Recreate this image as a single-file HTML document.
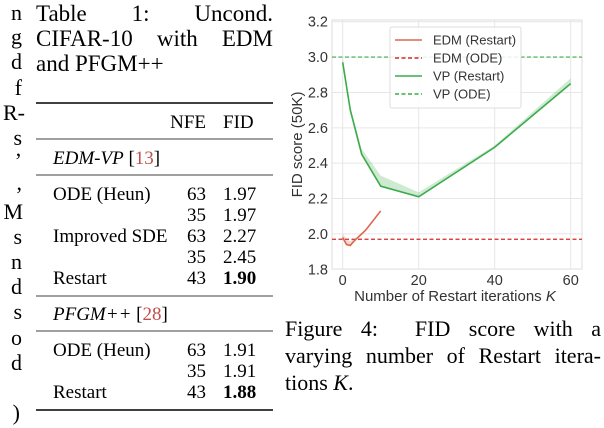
<!DOCTYPE html>
<html><head><meta charset="utf-8"><style>
html,body{margin:0;padding:0;background:#fff;}
body{position:relative;width:604px;height:428px;overflow:hidden;}
svg{display:block;position:absolute;left:0;top:0;}
.serif{font-family:"Liberation Serif",serif;fill:#000;}
.sans{font-family:"Liberation Sans",sans-serif;fill:#333;}
.jl{position:absolute;font-family:"Liberation Serif",serif;color:#000;white-space:nowrap;text-align:justify;text-align-last:justify;line-height:1;}
.jl.nl{text-align-last:left;}
</style></head><body>
<svg id="page" width="604" height="428" viewBox="0 0 604 428">
<g class="serif" font-size="22" text-anchor="end">
<text x="22" y="20">n</text><text x="22" y="44">g</text><text x="22" y="69">d</text><text x="22" y="95">f</text>
<text x="25" y="120">R-</text><text x="22" y="145">s</text><text x="22" y="168">’</text><text x="22" y="190">,</text>
<text x="23" y="219">M</text><text x="22" y="244">s</text><text x="22" y="269">n</text><text x="22" y="294">d</text>
<text x="22" y="319">s</text><text x="22" y="345">o</text><text x="22" y="370">d</text><text x="20" y="420">)</text>
</g>
<g class="serif">
<g stroke="#000">
<line x1="36" x2="273" y1="103" y2="103" stroke-width="1.4"/>
<line x1="36" x2="273" y1="139" y2="139" stroke-width="0.8"/>
<line x1="36" x2="273" y1="175" y2="175" stroke-width="0.8"/>
<line x1="36" x2="273" y1="296" y2="296" stroke-width="0.8"/>
<line x1="36" x2="273" y1="331" y2="331" stroke-width="0.8"/>
<line x1="36" x2="273" y1="410" y2="410" stroke-width="1.4"/>
</g>
<g font-size="19">
<text x="206" y="128" text-anchor="end">NFE</text><text x="223" y="128">FID</text>
<text x="53" y="164"><tspan font-style="italic">EDM-VP</tspan> [<tspan fill="#c0504d">13</tspan>]</text>
<text x="53" y="200">ODE (Heun)</text><text x="206" y="200" text-anchor="end">63</text><text x="223" y="200">1.97</text>
<text x="206" y="221" text-anchor="end">35</text><text x="223" y="221">1.97</text>
<text x="53" y="242">Improved SDE</text><text x="206" y="242" text-anchor="end">63</text><text x="223" y="242">2.27</text>
<text x="206" y="263" text-anchor="end">35</text><text x="223" y="263">2.45</text>
<text x="53" y="284">Restart</text><text x="206" y="284" text-anchor="end">43</text><text x="223" y="284" font-weight="bold">1.90</text>
<text x="53" y="320"><tspan font-style="italic">PFGM++</tspan> [<tspan fill="#c0504d">28</tspan>]</text>
<text x="53" y="356">ODE (Heun)</text><text x="206" y="356" text-anchor="end">63</text><text x="223" y="356">1.91</text>
<text x="206" y="377" text-anchor="end">35</text><text x="223" y="377">1.91</text>
<text x="53" y="398">Restart</text><text x="206" y="398" text-anchor="end">43</text><text x="223" y="398" font-weight="bold">1.88</text>
</g>
</g>
<g id="chart"></g>
</svg>
<div>
<div class="jl" style="left:36px;top:2px;width:237px;font-size:23px;">Table 1: Uncond.</div>
<div class="jl" style="left:36px;top:27px;width:237px;font-size:23px;">CIFAR-10 with EDM</div>
<div class="jl nl" style="left:36px;top:52px;width:237px;font-size:23px;">and PFGM++</div>
</div>
<div>
<div class="jl" style="left:285px;top:318px;width:316px;font-size:22px;">Figure 4: &nbsp;FID score with a</div>
<div class="jl" style="left:285px;top:345px;width:316px;font-size:22px;">varying number of Restart itera-</div>
<div class="jl nl" style="left:285px;top:372px;width:316px;font-size:22px;">tions <i>K</i>.</div>
</div>
<script>
const vpK = [0, 2, 5, 10, 20, 40, 60];
const vpFid = [2.97, 2.70, 2.45, 2.27, 2.21, 2.49, 2.85];
const vpUpper = [3.00, 2.72, 2.48, 2.33, 2.235, 2.50, 2.88];
const edmK = [0, 1, 2, 3, 6, 10];
const edmFid = [1.98, 1.94, 1.935, 1.96, 2.02, 2.13];
const edmUpper = [2.00, 1.97, 1.96, 1.97, 2.025, 2.135];
const edmOde = 1.97;
const vpOde = 3.0;
const yTicks = [1.8, 2.0, 2.2, 2.4, 2.6, 2.8, 3.0, 3.2];
const xTicks = [0, 20, 40, 60];

const NS = 'http://www.w3.org/2000/svg';
const g = document.getElementById('chart');
const L = 332, R = 582, T = 20, B = 269;
const xS = k => 342.7 + (k - 0) * (570.7 - 342.7) / 60;
const yS = v => 269.3 - (v - 1.8) * (269.3 - 21.7) / 1.4;
function mk(tag, attrs, parent) {
  const e = document.createElementNS(NS, tag);
  for (const k in attrs) e.setAttribute(k, attrs[k]);
  (parent || g).appendChild(e);
  return e;
}
let bg = mk('rect', {x: L, y: T, width: R - L, height: B - T, fill: '#fff', stroke: '#ddd', 'stroke-width': 1});


yTicks.forEach(v => {
  const y = yS(v);
  let gl = mk('line', {x1: L, x2: R, y1: y, y2: y, stroke: '#e6e6e6', 'stroke-width': 1});
  
  
  let t = mk('text', {x: L - 4, y: y + 5, 'text-anchor': 'end', class: 'sans', 'font-size': 14.5});
  
  
  t.textContent = v.toFixed(1);
});
xTicks.forEach(k => {
  const x = xS(k);
  let gl = mk('line', {x1: x, x2: x, y1: T, y2: B, stroke: '#e6e6e6', 'stroke-width': 1});
  
  
  let t = mk('text', {x: x, y: B + 16, 'text-anchor': 'middle', class: 'sans', 'font-size': 14.5});
  
  
  t.textContent = k;
});
function band(ks, lo, hi, color, name) {
  let d = ks.map((k, i) => (i ? 'L' : 'M') + xS(k) + ',' + yS(hi[i])).join('');
  for (let i = ks.length - 1; i >= 0; i--) d += 'L' + xS(ks[i]) + ',' + yS(lo[i]);
  let p = mk('path', {d: d + 'Z', fill: color, 'fill-opacity': 0.25, stroke: 'none'});
  
  
}
function line(ks, vs, color, name) {
  let d = ks.map((k, i) => (i ? 'L' : 'M') + xS(k) + ',' + yS(vs[i])).join('');
  let p = mk('path', {d: d, fill: 'none', stroke: color, 'stroke-width': 1.6});
  
  
}
let l1 = mk('line', {x1: L, x2: R, y1: yS(edmOde), y2: yS(edmOde), stroke: '#d62728', 'stroke-width': 1.2, 'stroke-dasharray': '4,2.5'});


let l2 = mk('line', {x1: L, x2: R, y1: yS(vpOde), y2: yS(vpOde), stroke: '#3cab4a', 'stroke-width': 1.2, 'stroke-dasharray': '4,2.5'});


band(vpK, vpFid, vpUpper, '#3cab4a', 'vp-restart-band');
band(edmK, edmFid, edmUpper, '#d9684f', 'edm-restart-band');
line(vpK, vpFid, '#3cab4a', 'vp-restart-line');
line(edmK, edmFid, '#d9684f', 'edm-restart-line');
let yt = mk('text', {x: 0, y: 0, transform: `translate(302,${(T + B) / 2}) rotate(-90)`, 'text-anchor': 'middle', class: 'sans', 'font-size': 15});


yt.textContent = 'FID score (50K)';
let xt = mk('text', {x: (L + R) / 2 - 2, y: 301, 'text-anchor': 'middle', class: 'sans', 'font-size': 15});


xt.innerHTML = 'Number of Restart iterations <tspan font-style="italic">K</tspan>';
const leg = mk('g', {});


mk('rect', {x: 390, y: 27, width: 131, height: 81, fill: '#fff', 'fill-opacity': 0.85, stroke: '#ddd', rx: 2}, leg);
const entries = [['EDM (Restart)', '#d9684f', ''], ['EDM (ODE)', '#d62728', '4,2.5'], ['VP (Restart)', '#3cab4a', ''], ['VP (ODE)', '#3cab4a', '4,2.5']];
entries.forEach((e, i) => {
  const y = 40 + i * 18;
  const eg = mk('g', {}, leg);
  
  
  mk('line', {x1: 395, x2: 422, y1: y, y2: y, stroke: e[1], 'stroke-width': 1.6, 'stroke-dasharray': e[2] || 'none'}, eg);
  const t = mk('text', {x: 433, y: y + 4.5, class: 'sans', 'font-size': 13}, eg);
  t.textContent = e[0];
});
</script>
</body></html>
